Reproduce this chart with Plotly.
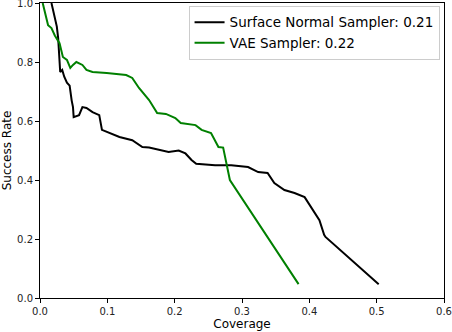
import plotly.graph_objects as go

# Surface Normal Sampler curve (coverage, success rate)
sn_coverage = [0.017, 0.020, 0.025, 0.027, 0.029, 0.030, 0.033, 0.036, 0.040, 0.044,
               0.047, 0.049, 0.050, 0.058, 0.063, 0.069, 0.078, 0.088, 0.092, 0.103,
               0.118, 0.137, 0.152, 0.162, 0.172, 0.191, 0.206, 0.216, 0.225, 0.232,
               0.260, 0.284, 0.309, 0.324, 0.338, 0.348, 0.363, 0.378, 0.393, 0.402,
               0.415, 0.422, 0.424, 0.503]
sn_success = [1.0, 0.97, 0.92, 0.88, 0.81, 0.766, 0.773, 0.75, 0.73, 0.72,
              0.67, 0.647, 0.613, 0.62, 0.647, 0.644, 0.63, 0.62, 0.57, 0.56,
              0.546, 0.535, 0.512, 0.51, 0.505, 0.495, 0.50, 0.49, 0.468, 0.455,
              0.45, 0.45, 0.444, 0.427, 0.424, 0.39, 0.366, 0.356, 0.342, 0.309,
              0.264, 0.214, 0.207, 0.047]

# VAE Sampler curve
vae_coverage = [0.004, 0.008, 0.010, 0.012, 0.017, 0.022, 0.029, 0.034, 0.040, 0.045,
                0.049, 0.054, 0.063, 0.069, 0.078, 0.099, 0.128, 0.137, 0.147, 0.162,
                0.174, 0.187, 0.201, 0.209, 0.231, 0.240, 0.254, 0.265, 0.272, 0.277,
                0.282, 0.384]
vae_success = [1.0, 0.96, 0.94, 0.925, 0.915, 0.89, 0.864, 0.817, 0.807, 0.78,
               0.79, 0.80, 0.79, 0.773, 0.766, 0.763, 0.756, 0.746, 0.712, 0.671,
               0.627, 0.624, 0.61, 0.593, 0.586, 0.57, 0.559, 0.512, 0.51, 0.457,
               0.40, 0.047]

names = ["Surface Normal Sampler: 0.21", "VAE Sampler: 0.22"]

fig = go.Figure()
fig.add_trace(go.Scatter(x=sn_coverage, y=sn_success, mode="lines", name=names[0],
                         line=dict(color="black", width=2)))
fig.add_trace(go.Scatter(x=vae_coverage, y=vae_success, mode="lines", name=names[1],
                         line=dict(color="#008000", width=2)))

axis_style = dict(showline=True, linecolor="black", linewidth=1, mirror=True,
                  ticks="outside", ticklen=4, tickcolor="black", showgrid=False,
                  zeroline=False, automargin=False, ticklabeloverflow="allow",
                  tickfont=dict(size=10, color="#222222"))

fig.update_layout(
    width=452, height=332,
    margin=dict(l=40, r=8, t=3, b=34),
    plot_bgcolor="white", paper_bgcolor="white",
    font=dict(family="DejaVu Sans", color="black"),
    showlegend=True,
    legend=dict(x=0.989, y=0.99, xanchor="right", yanchor="top",
                bordercolor="#cccccc", borderwidth=1, bgcolor="rgba(255,255,255,0.8)",
                font=dict(size=13.5), itemwidth=30, tracegroupgap=0),
)
fig.update_xaxes(range=[0, 0.6], dtick=0.1, tickformat=".1f",
                 title=dict(text="Coverage", font=dict(size=12), standoff=2), **axis_style)
fig.update_yaxes(range=[0, 1.0], dtick=0.2, tickformat=".1f",
                 title=dict(text="Success Rate", font=dict(size=12), standoff=4), **axis_style)

# the page body has a default 8px margin; remove it so the figure sits at the corner
fig.write_html("out.html", config={"displayModeBar": False},
               post_script="document.body.style.margin='0px';document.body.style.overflow='hidden';")
